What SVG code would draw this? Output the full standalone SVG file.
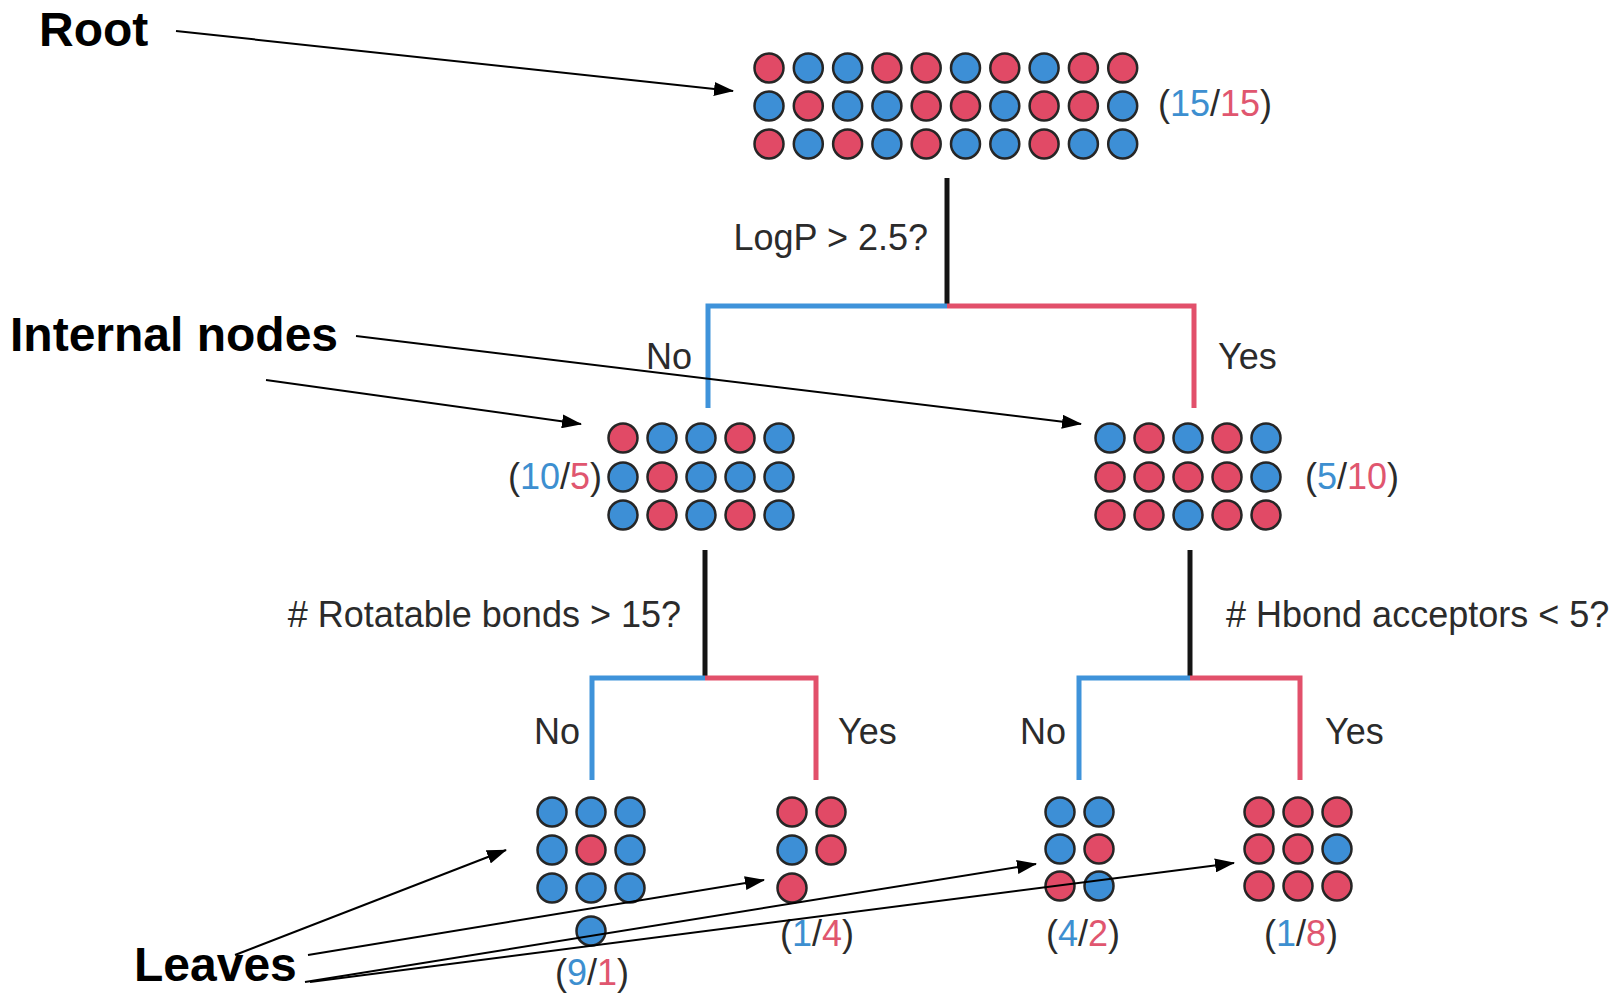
<svg xmlns="http://www.w3.org/2000/svg" width="1619" height="996" viewBox="0 0 1619 996">
  <defs>
    <style>
      .r { fill: #e14a66; stroke: #262626; stroke-width: 2.5; }
      .b { fill: #3d8fd6; stroke: #262626; stroke-width: 2.5; }
      .lbl { font-family: "Liberation Sans", Arial, sans-serif; font-size: 36px; fill: #2b2b2b; }
      .big { font-family: "Liberation Sans", Arial, sans-serif; font-size: 48px; font-weight: bold; fill: #000; }
      .nb { fill: #3d8fd0; }
      .nr { fill: #e0566f; }
      .stem { stroke: #141414; stroke-width: 5; fill: none; }
      .no { stroke: #3f93da; stroke-width: 5; fill: none; }
      .yes { stroke: #e2506b; stroke-width: 5; fill: none; }
      .ptr { stroke: #000; stroke-width: 2; fill: none; marker-end: url(#head); }
    </style>
    <marker id="head" markerUnits="userSpaceOnUse" markerWidth="20" markerHeight="14" viewBox="0 0 20 14" refX="19" refY="7" orient="auto">
      <path d="M0,0 L20,7 L0,14 z" fill="#000"/>
    </marker>
  </defs>
  <rect width="1619" height="996" fill="#ffffff"/>

  <!-- tree branches -->
  <g id="branches">
    <line class="stem" x1="947" y1="178" x2="947" y2="306"/>
    <polyline class="no" points="947,306 708,306 708,408"/>
    <polyline class="yes" points="947,306 1194,306 1194,408"/>
    <line class="stem" x1="705" y1="550" x2="705" y2="678"/>
    <polyline class="no" points="705,678 592,678 592,780"/>
    <polyline class="yes" points="705,678 816,678 816,780"/>
    <line class="stem" x1="1190" y1="550" x2="1190" y2="678"/>
    <polyline class="no" points="1190,678 1079,678 1079,780"/>
    <polyline class="yes" points="1190,678 1300,678 1300,780"/>
  </g>

  <!-- split questions and branch labels -->
  <g id="split-labels">
    <text class="lbl" x="928" y="250" text-anchor="end">LogP &gt; 2.5?</text>
    <text class="lbl" x="692" y="369" text-anchor="end">No</text>
    <text class="lbl" x="1218" y="369">Yes</text>
    <text class="lbl" x="681" y="627" text-anchor="end"># Rotatable bonds &gt; 15?</text>
    <text class="lbl" x="1226" y="627"># Hbond acceptors &lt; 5?</text>
    <text class="lbl" x="580" y="744" text-anchor="end">No</text>
    <text class="lbl" x="838" y="744">Yes</text>
    <text class="lbl" x="1066" y="744" text-anchor="end">No</text>
    <text class="lbl" x="1325" y="744">Yes</text>
  </g>

  <!-- root node: 30 compounds -->
  <g id="root">
    <g>
      <circle class="r" cx="769" cy="68" r="14.5"/><circle class="b" cx="808.3" cy="68" r="14.5"/><circle class="b" cx="847.6" cy="68" r="14.5"/><circle class="r" cx="886.9" cy="68" r="14.5"/><circle class="r" cx="926.2" cy="68" r="14.5"/>
      <circle class="b" cx="965.5" cy="68" r="14.5"/><circle class="r" cx="1004.8" cy="68" r="14.5"/><circle class="b" cx="1044.1" cy="68" r="14.5"/><circle class="r" cx="1083.4" cy="68" r="14.5"/><circle class="r" cx="1122.7" cy="68" r="14.5"/>
      <circle class="b" cx="769" cy="106" r="14.5"/><circle class="r" cx="808.3" cy="106" r="14.5"/><circle class="b" cx="847.6" cy="106" r="14.5"/><circle class="b" cx="886.9" cy="106" r="14.5"/><circle class="r" cx="926.2" cy="106" r="14.5"/>
      <circle class="r" cx="965.5" cy="106" r="14.5"/><circle class="b" cx="1004.8" cy="106" r="14.5"/><circle class="r" cx="1044.1" cy="106" r="14.5"/><circle class="r" cx="1083.4" cy="106" r="14.5"/><circle class="b" cx="1122.7" cy="106" r="14.5"/>
      <circle class="r" cx="769" cy="144" r="14.5"/><circle class="b" cx="808.3" cy="144" r="14.5"/><circle class="r" cx="847.6" cy="144" r="14.5"/><circle class="b" cx="886.9" cy="144" r="14.5"/><circle class="r" cx="926.2" cy="144" r="14.5"/>
      <circle class="b" cx="965.5" cy="144" r="14.5"/><circle class="b" cx="1004.8" cy="144" r="14.5"/><circle class="r" cx="1044.1" cy="144" r="14.5"/><circle class="b" cx="1083.4" cy="144" r="14.5"/><circle class="b" cx="1122.7" cy="144" r="14.5"/>
    </g>
    <text class="lbl" x="1158" y="116">(<tspan class="nb">15</tspan>/<tspan class="nr">15</tspan>)</text>
  </g>

  <!-- internal node: LogP <= 2.5 -->
  <g id="node-left">
    <circle class="r" cx="623" cy="438" r="14.5"/><circle class="b" cx="662" cy="438" r="14.5"/><circle class="b" cx="701" cy="438" r="14.5"/><circle class="r" cx="740" cy="438" r="14.5"/><circle class="b" cx="779" cy="438" r="14.5"/>
    <circle class="b" cx="623" cy="477" r="14.5"/><circle class="r" cx="662" cy="477" r="14.5"/><circle class="b" cx="701" cy="477" r="14.5"/><circle class="b" cx="740" cy="477" r="14.5"/><circle class="b" cx="779" cy="477" r="14.5"/>
    <circle class="b" cx="623" cy="515" r="14.5"/><circle class="r" cx="662" cy="515" r="14.5"/><circle class="b" cx="701" cy="515" r="14.5"/><circle class="r" cx="740" cy="515" r="14.5"/><circle class="b" cx="779" cy="515" r="14.5"/>
    <text class="lbl" x="602" y="489" text-anchor="end">(<tspan class="nb">10</tspan>/<tspan class="nr">5</tspan>)</text>
  </g>

  <!-- internal node: LogP > 2.5 -->
  <g id="node-right">
    <circle class="b" cx="1110" cy="438" r="14.5"/><circle class="r" cx="1149" cy="438" r="14.5"/><circle class="b" cx="1188" cy="438" r="14.5"/><circle class="r" cx="1227" cy="438" r="14.5"/><circle class="b" cx="1266" cy="438" r="14.5"/>
    <circle class="r" cx="1110" cy="477" r="14.5"/><circle class="r" cx="1149" cy="477" r="14.5"/><circle class="r" cx="1188" cy="477" r="14.5"/><circle class="r" cx="1227" cy="477" r="14.5"/><circle class="b" cx="1266" cy="477" r="14.5"/>
    <circle class="r" cx="1110" cy="515" r="14.5"/><circle class="r" cx="1149" cy="515" r="14.5"/><circle class="b" cx="1188" cy="515" r="14.5"/><circle class="r" cx="1227" cy="515" r="14.5"/><circle class="r" cx="1266" cy="515" r="14.5"/>
    <text class="lbl" x="1305" y="489">(<tspan class="nb">5</tspan>/<tspan class="nr">10</tspan>)</text>
  </g>

  <!-- leaves -->
  <g id="leaf-1">
    <circle class="b" cx="552" cy="812" r="14.5"/><circle class="b" cx="591" cy="812" r="14.5"/><circle class="b" cx="630" cy="812" r="14.5"/>
    <circle class="b" cx="552" cy="850" r="14.5"/><circle class="r" cx="591" cy="850" r="14.5"/><circle class="b" cx="630" cy="850" r="14.5"/>
    <circle class="b" cx="552" cy="888" r="14.5"/><circle class="b" cx="591" cy="888" r="14.5"/><circle class="b" cx="630" cy="888" r="14.5"/>
    <circle class="b" cx="591" cy="931" r="14.5"/>
    <text class="lbl" x="592" y="985" text-anchor="middle">(<tspan class="nb">9</tspan>/<tspan class="nr">1</tspan>)</text>
  </g>
  <g id="leaf-2">
    <circle class="r" cx="792" cy="812" r="14.5"/><circle class="r" cx="831" cy="812" r="14.5"/>
    <circle class="b" cx="792" cy="850" r="14.5"/><circle class="r" cx="831" cy="850" r="14.5"/>
    <circle class="r" cx="792" cy="888" r="14.5"/>
    <text class="lbl" x="817" y="946" text-anchor="middle">(<tspan class="nb">1</tspan>/<tspan class="nr">4</tspan>)</text>
  </g>
  <g id="leaf-3">
    <circle class="b" cx="1060" cy="812" r="14.5"/><circle class="b" cx="1099" cy="812" r="14.5"/>
    <circle class="b" cx="1060" cy="849" r="14.5"/><circle class="r" cx="1099" cy="849" r="14.5"/>
    <circle class="r" cx="1060" cy="886" r="14.5"/><circle class="b" cx="1099" cy="886" r="14.5"/>
    <text class="lbl" x="1083" y="946" text-anchor="middle">(<tspan class="nb">4</tspan>/<tspan class="nr">2</tspan>)</text>
  </g>
  <g id="leaf-4">
    <circle class="r" cx="1259" cy="812" r="14.5"/><circle class="r" cx="1298" cy="812" r="14.5"/><circle class="r" cx="1337" cy="812" r="14.5"/>
    <circle class="r" cx="1259" cy="849" r="14.5"/><circle class="r" cx="1298" cy="849" r="14.5"/><circle class="b" cx="1337" cy="849" r="14.5"/>
    <circle class="r" cx="1259" cy="886" r="14.5"/><circle class="r" cx="1298" cy="886" r="14.5"/><circle class="r" cx="1337" cy="886" r="14.5"/>
    <text class="lbl" x="1301" y="946" text-anchor="middle">(<tspan class="nb">1</tspan>/<tspan class="nr">8</tspan>)</text>
  </g>

  <!-- callout captions -->
  <g id="captions">
    <text class="big" x="39" y="46">Root</text>
    <text class="big" x="10" y="351">Internal nodes</text>
    <text class="big" x="134" y="981">Leaves</text>
  </g>

  <!-- callout pointers -->
  <g id="pointers">
    <line class="ptr" x1="176" y1="31" x2="733" y2="91"/>
    <line class="ptr" x1="356" y1="336" x2="1081" y2="424"/>
    <line class="ptr" x1="266" y1="380" x2="581" y2="424"/>
    <line class="ptr" x1="235" y1="955" x2="506" y2="850"/>
    <line class="ptr" x1="308" y1="955" x2="764" y2="880"/>
    <line class="ptr" x1="305" y1="982" x2="1036" y2="864"/>
    <line class="ptr" x1="310" y1="982" x2="1234" y2="863"/>
  </g>
</svg>
